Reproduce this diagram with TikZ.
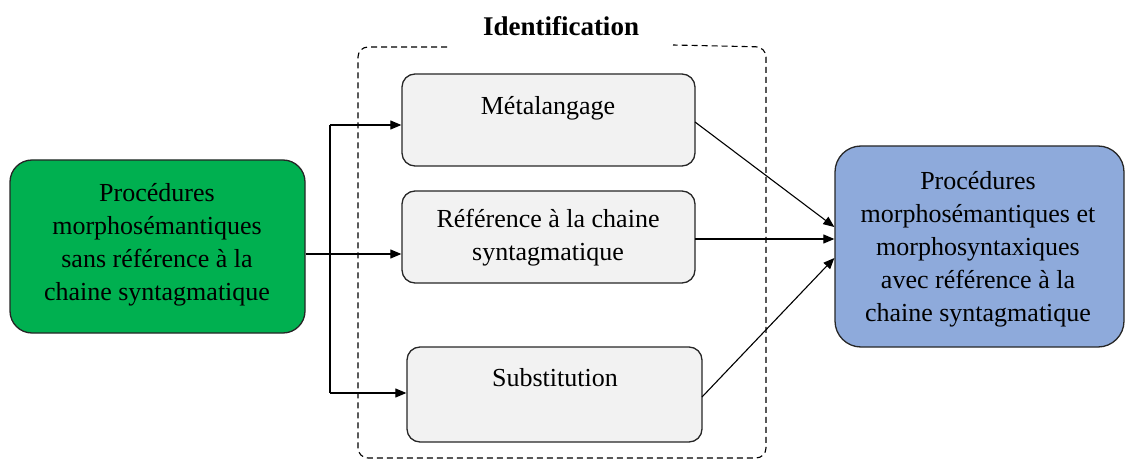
\documentclass[tikz,border=0pt]{standalone}
\usepackage{fontspec}
\setmainfont{Liberation Serif}
\usetikzlibrary{arrows.meta}
\definecolor{procgreen}{HTML}{00B050}
\definecolor{procblue}{HTML}{8EAADB}
\definecolor{stepgray}{HTML}{F2F2F2}
\definecolor{edge}{HTML}{262626}
\begin{document}
\begin{tikzpicture}[x=1pt,y=-1pt,
  every node/.style={font=\fontsize{26}{33}\selectfont},
  roundbox/.style={draw=edge,line width=1.3pt,rounded corners=22pt,inner sep=0pt},
  stepbox/.style={draw=edge,line width=1.3pt,rounded corners=13pt,fill=stepgray,inner sep=0pt,minimum width=293pt,minimum height=92pt},
  txt/.style={align=center,inner sep=0pt,text depth=0pt},
  link/.style={line width=1.1pt,draw=black},
  arr/.style={link,-{Triangle[length=11pt,width=9pt]}},
  frame/.style={draw=black,line width=1.1pt,dash pattern=on 6pt off 4pt}
]
\useasboundingbox (0,0) rectangle (1126,462);

% source and target procedures
\node[roundbox,fill=procgreen,minimum width=295pt,minimum height=173pt] (src) at (157.5,246.5) {};
\node[roundbox,fill=procblue,minimum width=289pt,minimum height=201pt,rounded corners=26pt] (dst) at (979.5,246.5) {};

% identification steps
\node[stepbox] (meta) at (548.5,120) {};
\node[stepbox] (ref) at (548.5,237) {};
\node[stepbox,minimum width=295pt,minimum height=95pt] (subst) at (554.5,394.5) {};

% dashed frame around the steps, open at the top for the title
\draw[frame] (447,47) -- (370,47) [rounded corners=10pt] -- (358,47) -- (358,458) -- (766,458) -- (766,47) [sharp corners] -- (673,45);
\node[txt,font=\fontsize{27}{30}\selectfont\bfseries] (title) at (561,26) {Identification};

% texts (base anchor sits on the last line)
\node[txt,anchor=base] (srctxt) at (157,300) {Procédures\\morphosémantiques\\sans référence à la\\chaine syntagmatique};
\node[txt,anchor=base] (dsttxt) at (978,321) {Procédures\\morphosémantiques et\\morphosyntaxiques\\avec référence à la\\chaine syntagmatique};
\node[txt,anchor=base] (metatxt) at (548,115) {Métalangage};
\node[txt,anchor=base] (reftxt) at (548,261) {Référence à la chaine\\syntagmatique};
\node[txt,anchor=base] (substtxt) at (555,386) {Substitution};

% branching connectors
\coordinate (split) at (330,254);
\coordinate (jt) at (330,125);
\coordinate (jb) at (330,393);
\draw[link] (jt) -- (jb);
\draw[arr] (src.east |- split) -- (ref.west |- split);
\draw[arr] (jt) -- (meta.west |- jt);
\draw[arr] (jb) -- (subst.west |- jb);

% converging connectors
\coordinate (mo) at (695,122);
\coordinate (ro) at (695,239);
\coordinate (so) at (702,397);
\draw[arr] (mo) -- (dst.west |- 0,227);
\draw[arr] (ro) -- (dst.west |- ro);
\draw[arr] (so) -- (dst.west |- 0,258);
\end{tikzpicture}
\end{document}
